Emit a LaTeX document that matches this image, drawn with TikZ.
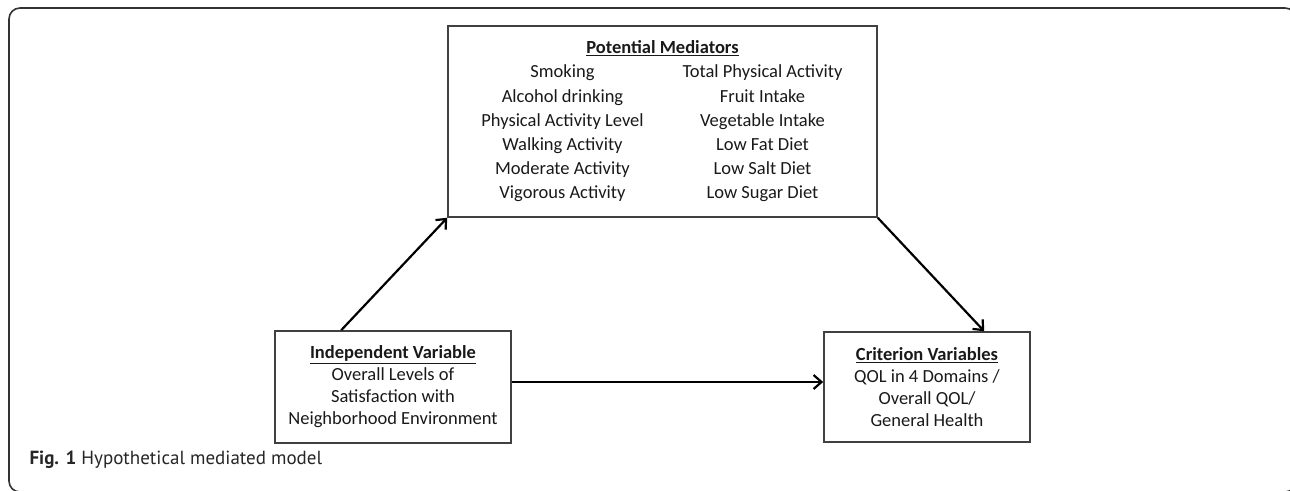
\documentclass[tikz,border=0pt]{standalone}
\usepackage{fontspec}
\setmainfont{Carlito}
\newfontfamily\capfont{PT Sans}
\usepackage{array}
\usetikzlibrary{arrows.meta}
\tikzset{
  varbox/.style={draw=black!75, line width=1.6pt, inner sep=0pt, align=center, text=black!90},
  arr/.style={line width=2.2pt, -{Straight Barb[length=8pt,width=14pt]}},
}
\newcommand{\boxtitle}[1]{\underline{\textbf{#1}}}

\begin{document}
\begin{tikzpicture}[x=1pt,y=-1pt]
  \clip (0,0) rectangle (1290,490);
  %%Frame
  \draw[black!80, line width=1.6pt, rounded corners=11pt] (9,8) rectangle (1296,492);
  %%Mediators
  \node[varbox, minimum width=429pt, minimum height=191pt, font=\fontsize{18.5}{24.2}\selectfont] (med) at (662.5,121.5) {%
    \begin{tabular}{@{}>{\centering}p{200pt}@{}>{\centering\arraybackslash}p{200pt}@{}}
      \multicolumn{2}{c}{\boxtitle{Potential Mediators}}\\
      Smoking & Total Physical Activity\\
      Alcohol drinking & Fruit Intake\\
      Physical Activity Level & Vegetable Intake\\
      Walking Activity & Low Fat Diet\\
      Moderate Activity & Low Salt Diet\\
      Vigorous Activity & Low Sugar Diet
    \end{tabular}};
  %%Independent and criterion
  \node[varbox, minimum width=236pt, minimum height=112pt, font=\fontsize{18.5}{22}\selectfont] (indep) at (393,387)
    {\boxtitle{Independent Variable}\\Overall Levels of\\Satisfaction with\\Neighborhood Environment};
  \node[varbox, minimum width=206pt, minimum height=110pt, font=\fontsize{18.5}{22}\selectfont] (crit) at (927,387)
    {\boxtitle{Criterion Variables}\\QOL in 4 Domains /\\Overall QOL/\\General Health};
  %%Paths
  \draw[arr] ([xshift=67pt]indep.north west) -- (med.south west);
  \draw[arr] (med.south east) -- ([xshift=161pt]crit.north west);
  \draw[arr] ([yshift=5pt]indep.east) -- ([yshift=5pt]crit.west);
  %%Caption
  \node[anchor=west, text=black!85, font=\capfont\fontsize{19}{22}\selectfont] (cap) at (26,460)
    {\textbf{Fig. 1} Hypothetical mediated model};
\end{tikzpicture}
\end{document}
